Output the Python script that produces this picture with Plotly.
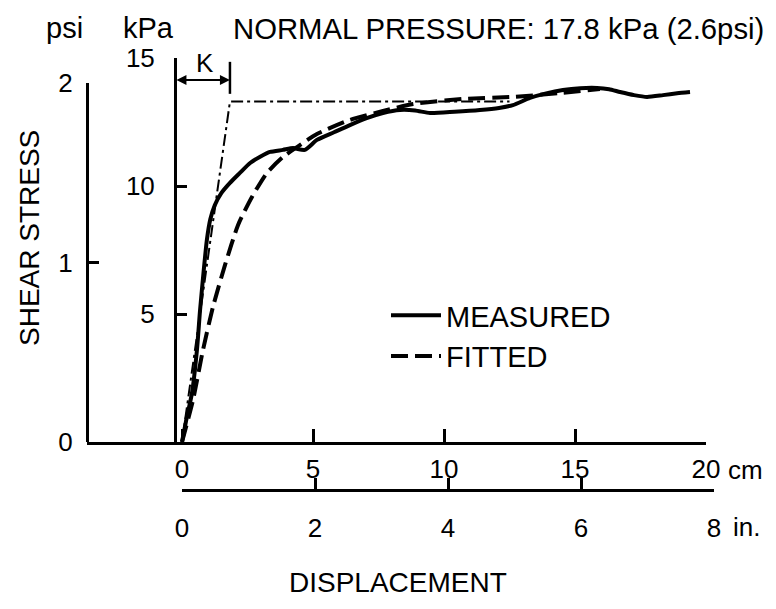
import plotly.graph_objects as go

# ---------------- data ----------------
# displacement in cm, shear stress in kPa
measured_cm = [0.0, 0.15, 0.38, 0.57, 0.69, 0.82, 0.95, 1.08, 1.25, 1.50, 1.83, 2.20, 2.60, 3.00, 3.36, 3.85,
               4.24, 4.69, 5.15, 5.80, 6.41, 7.05, 7.67, 8.32, 8.90, 9.47, 10.40, 11.37, 12.10, 12.63,
               13.28, 13.90, 14.54, 15.20, 15.84, 16.30, 16.72, 17.25, 17.75, 18.36, 18.90, 19.39]
measured_kpa = [0.0, 0.8, 1.91, 3.59, 5.16, 6.60, 7.90, 8.70, 9.25, 9.72, 10.12, 10.50, 10.90, 11.15, 11.33, 11.41,
                11.48, 11.41, 11.80, 12.10, 12.38, 12.65, 12.85, 12.97, 12.95, 12.85, 12.90, 12.97, 13.05, 13.16,
                13.44, 13.62, 13.75, 13.82, 13.83, 13.78, 13.67, 13.55, 13.48, 13.55, 13.62, 13.67]
fitted_cm = [0.0, 0.42, 0.80, 1.18, 1.64, 2.14, 2.67, 3.24, 3.85, 4.39, 5.15, 6.41, 7.67, 8.82,
             10.73, 12.63, 14.43, 15.95]
fitted_kpa = [0.0, 1.64, 3.59, 5.27, 6.91, 8.48, 9.57, 10.51, 11.13, 11.52, 12.03, 12.58, 12.93, 13.20,
              13.40, 13.48, 13.63, 13.79]
k_cm = 1.83          # displacement K at which the initial tangent reaches the asymptote
tau_ult_kpa = 13.3   # asymptotic shear stress
k_line_end_cm = 12.5
k_dim_kpa = 14.14    # height of the K dimension line

kpa_ticks = [5, 10, 15]
psi_ticks = [0, 1, 2]
cm_ticks = [0, 5, 10, 15, 20]
in_ticks = [0, 2, 4, 6, 8]

title_text = "NORMAL PRESSURE: 17.8 kPa (2.6psi)"

# ---------------- layout helpers (pixels -> paper) ----------------
W, H = 776, 609
def px(x):
    return x / W
def py(y):
    return (H - y) / H

FONT = "Liberation Sans, Arial, Helvetica, sans-serif"
BLACK = "#000000"
CLEAR = "rgba(0,0,0,0)"

fig = go.Figure()

fig.add_trace(go.Scatter(x=measured_cm, y=measured_kpa, mode="lines", name="MEASURED",
                         line=dict(color=BLACK, width=4, shape="spline", smoothing=0.6),
                         xaxis="x", yaxis="y"))
fig.add_trace(go.Scatter(x=fitted_cm, y=fitted_kpa, mode="lines", name="FITTED",
                         line=dict(color=BLACK, width=4, dash="17px,7px", shape="spline", smoothing=0.6),
                         xaxis="x", yaxis="y"))
fig.add_trace(go.Scatter(x=[0, k_cm, k_line_end_cm], y=[0, tau_ult_kpa, tau_ult_kpa], mode="lines",
                         showlegend=False, hoverinfo="skip",
                         line=dict(color=BLACK, width=2, dash="12px,4px,3px,4px"),
                         xaxis="x", yaxis="y"))
# carriers for the secondary scales (psi and inches)
fig.add_trace(go.Scatter(x=[None] * len(psi_ticks), y=psi_ticks, mode="markers", showlegend=False,
                         hoverinfo="skip", marker=dict(opacity=0), xaxis="x", yaxis="y2"))
fig.add_trace(go.Scatter(x=in_ticks, y=[None] * len(in_ticks), mode="markers", showlegend=False,
                         hoverinfo="skip", marker=dict(opacity=0), xaxis="x2", yaxis="y2"))

x0_cm = -(182 - 87) / 26.2

fig.update_layout(
    width=W, height=H,
    margin=dict(l=0, r=0, t=0, b=0, autoexpand=False),
    paper_bgcolor="white", plot_bgcolor=CLEAR,
    font=dict(family=FONT, color=BLACK, size=26),
    showlegend=True,
    legend=dict(x=px(386), y=py(290), xanchor="left", yanchor="top",
                font=dict(size=29, family=FONT, color=BLACK), bgcolor=CLEAR,
                itemwidth=50, tracegroupgap=0),
    xaxis=dict(domain=[px(87), px(706)], range=[x0_cm, 20], anchor="y",
               showline=True, linecolor=BLACK, linewidth=3, showgrid=False, zeroline=False,
               ticks="inside", ticklen=13, tickwidth=2.5, tickcolor=BLACK,
               tickvals=cm_ticks, ticktext=[str(v) for v in cm_ticks],
               tickfont=dict(size=26), ticklabelstandoff=2, fixedrange=True),
    yaxis=dict(domain=[py(442), py(58)], range=[0, 15], anchor="free", position=px(175),
               showline=True, linecolor=BLACK, linewidth=3, showgrid=False, zeroline=False,
               ticks="inside", ticklen=10, tickwidth=2.5, tickcolor=BLACK,
               tickvals=kpa_ticks, ticktext=[str(v) for v in kpa_ticks],
               tickfont=dict(size=26), ticklabelstandoff=14, fixedrange=True),
    yaxis2=dict(domain=[py(442), py(83)], range=[0, 2], anchor="free", position=px(87),
                showline=True, linecolor=BLACK, linewidth=3, showgrid=False, zeroline=False,
                ticks="inside", ticklen=10, tickwidth=2.5, tickcolor=BLACK,
                tickvals=psi_ticks, ticktext=[str(v) for v in psi_ticks],
                tickfont=dict(size=26), ticklabelstandoff=8, fixedrange=True),
    xaxis2=dict(domain=[px(182), px(714)], range=[0, 8], anchor="free", position=py(490),
                showline=True, linecolor=BLACK, linewidth=3, showgrid=False, zeroline=False,
                ticks="inside", ticklen=11, tickwidth=2.5, tickcolor=BLACK,
                tickvals=in_ticks, ticktext=[str(v) for v in in_ticks],
                tickfont=dict(size=26), ticklabelstandoff=14, fixedrange=True),
)

# K dimension: vertical bar at K and double arrow from the stress axis to K
fig.add_shape(type="line", xref="x", yref="y", x0=k_cm, x1=k_cm, y0=13.6, y1=14.85,
              line=dict(color=BLACK, width=2.5))
fig.add_annotation(x=k_cm, y=k_dim_kpa, ax=-0.27, ay=k_dim_kpa, xref="x", yref="y", axref="x", ayref="y",
                   text="", showarrow=True, arrowhead=2, arrowside="end+start", arrowsize=1,
                   arrowwidth=2, arrowcolor=BLACK)
fig.add_annotation(x=(k_cm - 0.27) / 2 + 0.1, y=14.8, xref="x", yref="y", text="K", showarrow=False,
                   font=dict(size=26), yanchor="middle")

# header texts
fig.add_annotation(x=px(64), y=py(28), xref="paper", yref="paper", text="psi", showarrow=False,
                   font=dict(size=29), xanchor="center", yanchor="middle")
fig.add_annotation(x=px(148), y=py(28), xref="paper", yref="paper", text="kPa", showarrow=False,
                   font=dict(size=29), xanchor="center", yanchor="middle")
fig.add_annotation(x=px(231), y=py(28), xref="paper", yref="paper", text=title_text, showarrow=False,
                   font=dict(size=29.3), xanchor="left", yanchor="middle")
# axis titles and units
fig.add_annotation(x=px(30), y=py(238), xref="paper", yref="paper", text="SHEAR STRESS", showarrow=False,
                   textangle=-90, font=dict(size=28), xanchor="center", yanchor="middle")
fig.add_annotation(x=px(398), y=py(582), xref="paper", yref="paper", text="DISPLACEMENT", showarrow=False,
                   font=dict(size=28), xanchor="center", yanchor="middle")
fig.add_annotation(x=px(726), y=py(470), xref="paper", yref="paper", text="cm", showarrow=False,
                   font=dict(size=26), xanchor="left", yanchor="middle")
fig.add_annotation(x=px(731), y=py(527), xref="paper", yref="paper", text="in.", showarrow=False,
                   font=dict(size=26), xanchor="left", yanchor="middle")

fig.write_html("out.html", config={"displayModeBar": False},
               post_script="document.body.style.margin='0px';")
